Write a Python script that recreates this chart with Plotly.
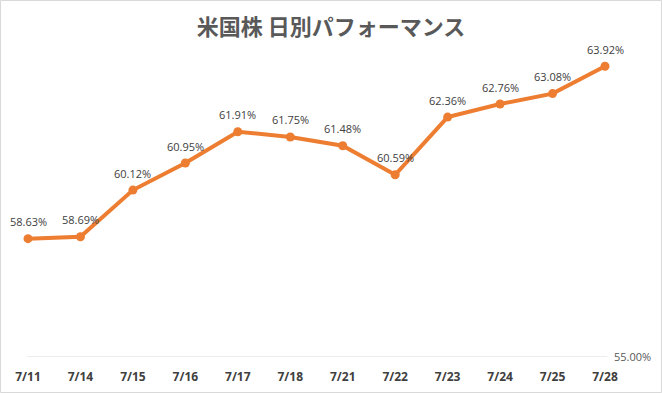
import plotly.graph_objects as go

dates = ["7/11", "7/14", "7/15", "7/16", "7/17", "7/18", "7/21", "7/22", "7/23", "7/24", "7/25", "7/28"]
performance = [58.63, 58.69, 60.12, 60.95, 61.91, 61.75, 61.48, 60.59, 62.36, 62.76, 63.08, 63.92]
y_ticks = [55]
y_ticktext = ["55.00%"]
title_text = "米国株 日別パフォーマンス"

W, H = 662, 393
ml, mr, mt, mb = 28, 57, 31, 36
pw, ph = W - ml - mr, H - mt - mb

fig = go.Figure()
fig.add_trace(go.Scatter(
    x=dates, y=performance,
    mode="lines+markers",
    line=dict(color="#ED7D31", width=4),
    marker=dict(color="#ED7D31", size=9),
    cliponaxis=False,
    hoverinfo="skip",
))

annotations = [
    dict(x=d, y=v, xref="x", yref="y", text=f"{v:.2f}%", showarrow=False,
         yshift=17, xanchor="center", yanchor="middle",
         font=dict(family="Open Sans, Liberation Sans, sans-serif", size=11, color="#404040"))
    for d, v in zip(dates, performance)
]

fig.update_layout(
    width=W, height=H,
    margin=dict(l=ml, r=mr, t=mt, b=mb, autoexpand=False),
    paper_bgcolor="white", plot_bgcolor="white",
    showlegend=False,
    annotations=annotations,
    title=dict(text=title_text, x=0.5, xanchor="center", xref="container",
               y=1 - 27 / H, yanchor="middle", yref="container",
               font=dict(family="Noto Sans CJK JP, sans-serif", size=22, color="#595959", weight="bold")),
    xaxis=dict(type="category", range=[0, len(dates) - 1], showgrid=False, zeroline=False,
               showline=False, ticks="", ticklabelstandoff=11, automargin=False,
               tickfont=dict(family="Open Sans, Liberation Sans, sans-serif", size=12, color="#404040", weight="bold")),
    yaxis=dict(range=[55, 65], side="right", tickvals=y_ticks, ticktext=y_ticktext,
               showgrid=False, zeroline=False, showline=False, automargin=False,
               ticks="", ticklabelstandoff=8,
               tickfont=dict(family="Open Sans, Liberation Sans, sans-serif", size=11, color="#595959")),
    shapes=[
        dict(type="line", xref="paper", yref="y", x0=-0.002, x1=1.004, y0=y_ticks[0], y1=y_ticks[0],
             line=dict(color="#D9D9D9", width=1), layer="below"),
        dict(type="rect", xref="paper", yref="paper",
             x0=(-ml + 0.5) / pw, x1=(W - ml - 0.5) / pw,
             y0=(-mb + 0.5) / ph, y1=(H - mb - 0.5) / ph,
             line=dict(color="#D9D9D9", width=1), layer="below"),
    ],
)

fig.write_html("out.html", config={"displayModeBar": False},
               post_script="document.body.style.margin='0';")
